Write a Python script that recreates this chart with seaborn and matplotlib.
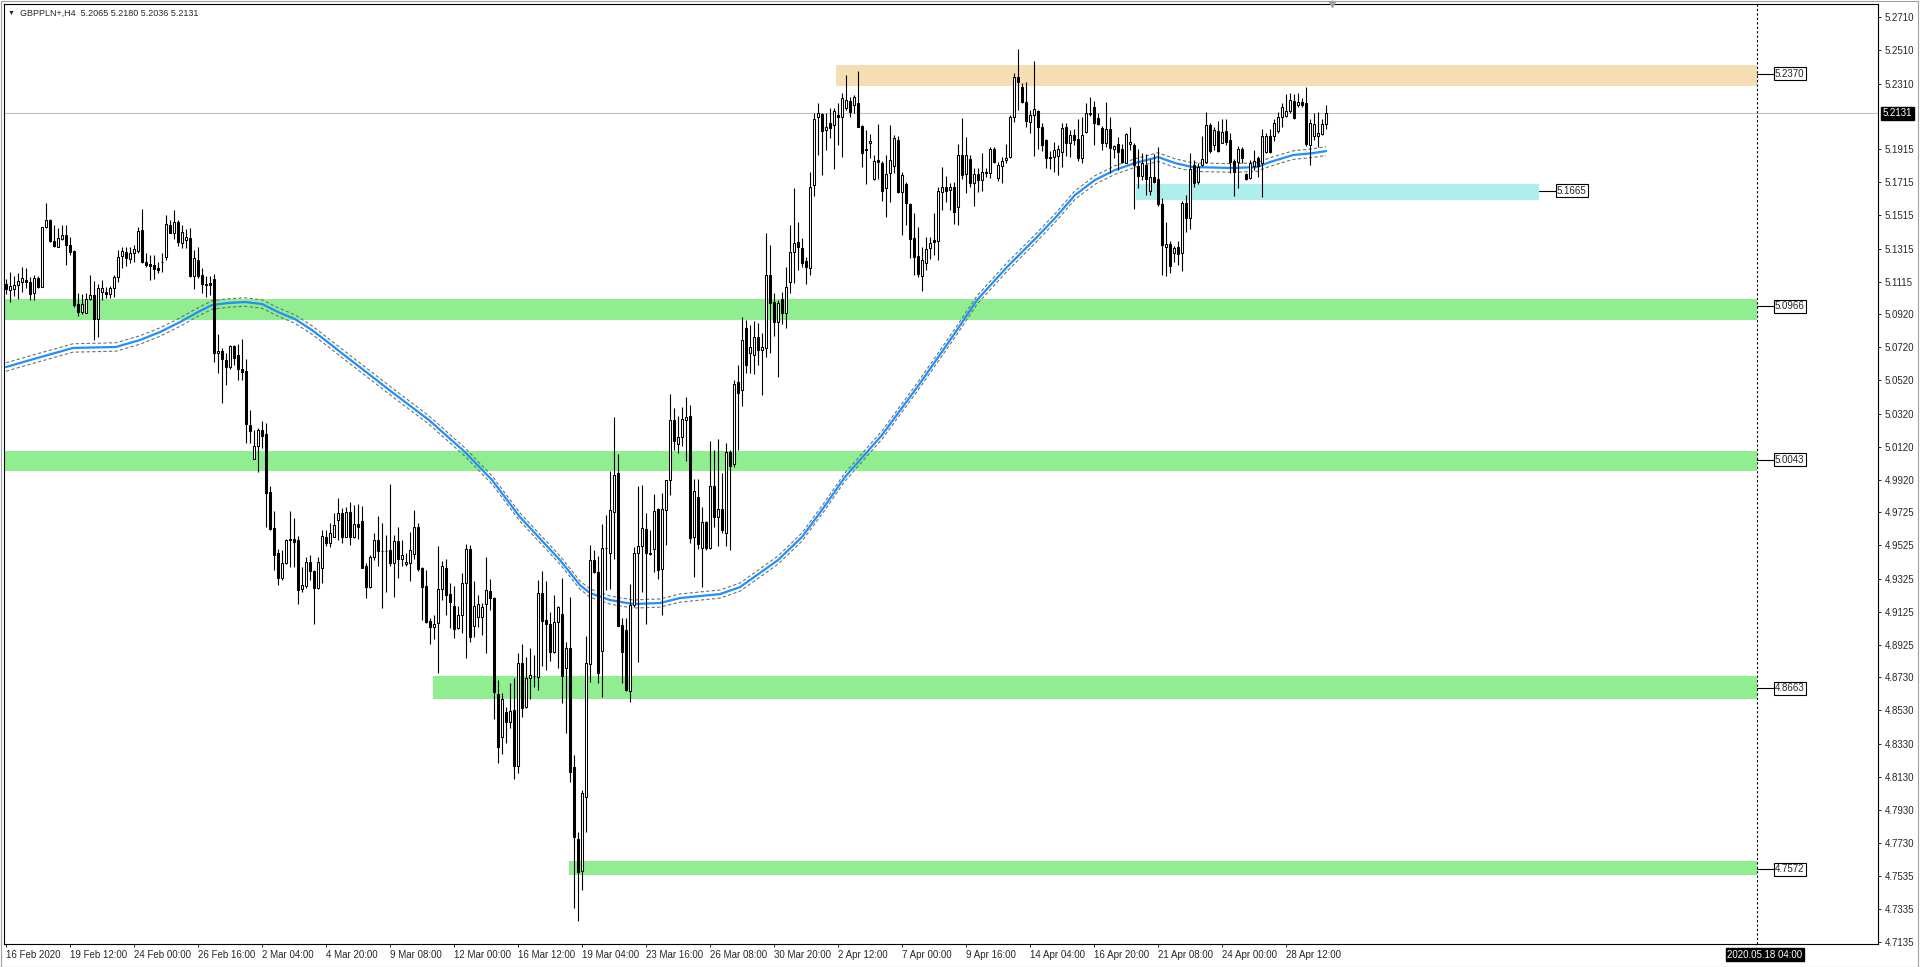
import numpy as np
import pandas as pd
import matplotlib
matplotlib.use("Agg")
import matplotlib.pyplot as plt
import matplotlib.transforms as mtransforms
from matplotlib.patches import Rectangle
import seaborn as sns

# ---- GBPPLN+ H4 candles (bar 0 = 16 Feb 2020 20:00) ----
opens = [
    5.1099, 5.1065, 5.1069, 5.1095, 5.1115, 5.1125, 5.1113, 5.1045, 5.1135, 5.1085,
    5.1443, 5.1487, 5.1362, 5.1326, 5.1375, 5.1397, 5.1336, 5.1300, 5.0979, 5.0934,
    5.0928, 5.1013, 5.1035, 5.0888, 5.1053, 5.1053, 5.1043, 5.1079, 5.1145, 5.1270,
    5.1296, 5.1252, 5.1286, 5.1300, 5.1427, 5.1236, 5.1222, 5.1216, 5.1200, 5.1232,
    5.1266, 5.1457, 5.1411, 5.1477, 5.1350, 5.1366, 5.1377, 5.1149, 5.1246, 5.1156,
    5.1104, 5.1110, 5.1130, 5.0683, 5.0698, 5.0643, 5.0599, 5.0728, 5.0673, 5.0589,
    5.0577, 5.0251, 5.0044, 5.0127, 5.0221, 5.0197, 4.9849, 4.9632, 4.9477, 4.9327,
    4.9417, 4.9558, 4.9566, 4.9558, 4.9260, 4.9281, 4.9425, 4.9371, 4.9266, 4.9387,
    4.9578, 4.9538, 4.9578, 4.9679, 4.9719, 4.9578, 4.9725, 4.9574, 4.9655, 4.9673,
    4.9401, 4.9273, 4.9454, 4.9558, 4.9494, 4.9492, 4.9498, 4.9422, 4.9552, 4.9442,
    4.9413, 4.9417, 4.9472, 4.9635, 4.9387, 4.9281, 4.9070, 4.9036, 4.9056, 4.9261,
    4.9387, 4.9233, 4.9160, 4.9030, 4.9106, 4.9297, 4.9502, 4.9040, 4.9096, 4.9096,
    4.9170, 4.9251, 4.9210, 4.8628, 4.8368, 4.8519, 4.8463, 4.8533, 4.8197, 4.8814,
    4.8549, 4.8723, 4.8736, 4.8734, 4.9236, 4.9075, 4.9049, 4.8884, 4.9065, 4.9109,
    4.8784, 4.8904, 4.8187, 4.7753, 4.7564, 4.8006, 4.8808, 4.9437, 4.9367, 4.8890,
    4.9508, 4.9481, 4.9729, 4.9964, 4.9045, 4.9015, 4.8649, 4.9166, 4.9477, 4.9524,
    4.9624, 4.9477, 4.9502, 4.9745, 4.9381, 4.9739, 4.9920, 5.0281, 5.0135, 5.0177,
    5.0281, 5.0306, 4.9574, 4.9815, 4.9512, 4.9666, 4.9512, 4.9883, 4.9699, 4.9743,
    4.9598, 5.0086, 5.0014, 5.0513, 5.0463, 5.0835, 5.0684, 5.0674, 5.0780, 5.0704,
    5.0714, 5.1156, 5.0991, 5.0875, 5.1009, 5.0925, 5.1116, 5.1297, 5.1357, 5.1317,
    5.1241, 5.1196, 5.1697, 5.2111, 5.2127, 5.2030, 5.2071, 5.2061, 5.2121, 5.2111,
    5.2161, 5.2205, 5.2181, 5.2191, 5.2054, 5.1918, 5.1950, 5.1733, 5.1849, 5.1829,
    5.1679, 5.1769, 5.1813, 5.1970, 5.1658, 5.1705, 5.1584, 5.1377, 5.1270, 5.1150,
    5.1230, 5.1317, 5.1367, 5.1363, 5.1658, 5.1689, 5.1669, 5.1689, 5.1564, 5.1880,
    5.1763, 5.1855, 5.1709, 5.1763, 5.1729, 5.1769, 5.1773, 5.1918, 5.1739, 5.1813,
    5.1849, 5.1865, 5.2107, 5.2352, 5.2292, 5.2201, 5.2081, 5.2121, 5.2145, 5.2047,
    5.1970, 5.1870, 5.1866, 5.1874, 5.1900, 5.2047, 5.1954, 5.2000, 5.1974, 5.1860,
    5.2016, 5.2127, 5.2167, 5.2101, 5.2041, 5.1950, 5.2035, 5.1914, 5.1946, 5.1914,
    5.1834, 5.1946, 5.1938, 5.1813, 5.1755, 5.1819, 5.1665, 5.1745, 5.1733, 5.1584,
    5.1327, 5.1343, 5.1291, 5.1323, 5.1287, 5.1588, 5.1498, 5.1819, 5.1719, 5.1819,
    5.1840, 5.2061, 5.1940, 5.2026, 5.1954, 5.2026, 5.1970, 5.1846, 5.1840, 5.1914,
    5.1765, 5.1739, 5.1813, 5.1860, 5.1834, 5.1900, 5.1994, 5.1994, 5.2026, 5.2111,
    5.2115, 5.2147, 5.2207, 5.2181, 5.2201, 5.2195, 5.1940, 5.1994, 5.1994, 5.2006,
    5.2065,
]
highs = [
    5.1129, 5.1176, 5.1149, 5.1166, 5.1202, 5.1200, 5.1145, 5.1155, 5.1149, 5.1447,
    5.1592, 5.1491, 5.1457, 5.1437, 5.1457, 5.1457, 5.1387, 5.1306, 5.1045, 5.1041,
    5.1045, 5.1155, 5.1121, 5.1101, 5.1125, 5.1085, 5.1089, 5.1155, 5.1306, 5.1326,
    5.1326, 5.1322, 5.1336, 5.1443, 5.1551, 5.1286, 5.1276, 5.1276, 5.1236, 5.1286,
    5.1517, 5.1487, 5.1547, 5.1487, 5.1457, 5.1431, 5.1437, 5.1306, 5.1326, 5.1200,
    5.1150, 5.1150, 5.1162, 5.0800, 5.0714, 5.0683, 5.0734, 5.0734, 5.0740, 5.0768,
    5.0647, 5.0342, 5.0221, 5.0231, 5.0277, 5.0261, 4.9884, 4.9735, 4.9502, 4.9498,
    4.9562, 4.9735, 4.9689, 4.9582, 4.9397, 4.9453, 4.9467, 4.9377, 4.9453, 4.9618,
    4.9619, 4.9659, 4.9719, 4.9809, 4.9749, 4.9755, 4.9785, 4.9769, 4.9775, 4.9765,
    4.9422, 4.9468, 4.9598, 4.9703, 4.9659, 4.9588, 4.9896, 4.9588, 4.9639, 4.9558,
    4.9478, 4.9608, 4.9739, 4.9659, 4.9393, 4.9377, 4.9090, 4.9106, 4.9522, 4.9434,
    4.9442, 4.9297, 4.9281, 4.9160, 4.9357, 4.9534, 4.9528, 4.9311, 4.9227, 4.9176,
    4.9454, 4.9325, 4.9217, 4.8714, 4.8634, 4.8553, 4.8694, 4.8724, 4.8875, 4.8928,
    4.8850, 4.8904, 4.8864, 4.9316, 4.9371, 4.9310, 4.9125, 4.9226, 4.9160, 4.9326,
    4.8945, 4.9212, 4.8261, 4.7795, 4.8050, 4.8979, 4.9528, 4.9500, 4.9460, 4.9654,
    4.9709, 4.9976, 5.0302, 5.0076, 4.9085, 4.9085, 4.9293, 4.9518, 4.9883, 4.9889,
    4.9719, 4.9618, 4.9835, 4.9749, 4.9839, 4.9920, 5.0440, 5.0352, 5.0306, 5.0362,
    5.0420, 5.0372, 4.9928, 4.9924, 4.9759, 4.9670, 5.0157, 5.0101, 5.0165, 4.9960,
    5.0145, 5.0101, 5.0520, 5.0613, 5.0905, 5.0885, 5.0855, 5.0881, 5.0865, 5.0804,
    5.1407, 5.1337, 5.1046, 5.1005, 5.1056, 5.1206, 5.1458, 5.1679, 5.1478, 5.1377,
    5.1267, 5.1779, 5.2135, 5.2195, 5.2135, 5.2131, 5.2161, 5.2161, 5.2191, 5.2251,
    5.2362, 5.2231, 5.2241, 5.2386, 5.2060, 5.2030, 5.2006, 5.1880, 5.2066, 5.1845,
    5.1880, 5.2060, 5.2000, 5.1994, 5.1779, 5.1719, 5.1592, 5.1528, 5.1443, 5.1327,
    5.1383, 5.1387, 5.1532, 5.1689, 5.1809, 5.1753, 5.1709, 5.1719, 5.1946, 5.2101,
    5.1990, 5.1880, 5.1803, 5.1799, 5.1890, 5.1799, 5.1930, 5.1926, 5.1839, 5.1870,
    5.1946, 5.2121, 5.2376, 5.2517, 5.2312, 5.2322, 5.2151, 5.2448, 5.2151, 5.2075,
    5.1974, 5.1906, 5.1960, 5.1940, 5.2075, 5.2071, 5.2030, 5.2035, 5.2095, 5.2111,
    5.2195, 5.2227, 5.2207, 5.2135, 5.2055, 5.2201, 5.2107, 5.1940, 5.1986, 5.1946,
    5.2010, 5.2051, 5.1954, 5.1914, 5.1894, 5.1886, 5.1854, 5.1886, 5.1930, 5.1618,
    5.1478, 5.1363, 5.1331, 5.1363, 5.1604, 5.1639, 5.1894, 5.1850, 5.1834, 5.1994,
    5.2141, 5.2075, 5.2051, 5.2087, 5.2095, 5.2095, 5.2010, 5.1854, 5.1934, 5.1930,
    5.1773, 5.1850, 5.1910, 5.1874, 5.2035, 5.2010, 5.2035, 5.2095, 5.2141, 5.2191,
    5.2248, 5.2252, 5.2248, 5.2252, 5.2221, 5.2288, 5.2095, 5.2131, 5.2141, 5.2095,
    5.2180,
]
lows = [
    5.1041, 5.0995, 5.1029, 5.1009, 5.1055, 5.1079, 5.1005, 5.1005, 5.1079, 5.1085,
    5.1437, 5.1356, 5.1326, 5.1322, 5.1366, 5.1216, 5.1276, 5.0965, 5.0908, 5.0920,
    5.0924, 5.1005, 5.0763, 5.0784, 5.1005, 5.1015, 5.1015, 5.1025, 5.1115, 5.1196,
    5.1210, 5.1230, 5.1232, 5.1286, 5.1230, 5.1206, 5.1125, 5.1129, 5.1170, 5.1176,
    5.1246, 5.1407, 5.1371, 5.1330, 5.1316, 5.1316, 5.1145, 5.1069, 5.1135, 5.1049,
    5.1025, 5.1035, 5.0633, 5.0563, 5.0382, 5.0493, 5.0587, 5.0613, 5.0523, 5.0523,
    5.0141, 5.0141, 5.0044, 4.9970, 5.0111, 4.9638, 4.9618, 4.9377, 4.9287, 4.9317,
    4.9413, 4.9397, 4.9397, 4.9170, 4.9246, 4.9266, 4.9317, 4.9049, 4.9260, 4.9300,
    4.9522, 4.9518, 4.9574, 4.9558, 4.9538, 4.9574, 4.9528, 4.9568, 4.9562, 4.9387,
    4.9206, 4.9267, 4.9438, 4.9401, 4.9150, 4.9247, 4.9401, 4.9217, 4.9331, 4.9401,
    4.9401, 4.9313, 4.9446, 4.9373, 4.9076, 4.9056, 4.8931, 4.8959, 4.8754, 4.9196,
    4.9106, 4.9026, 4.8965, 4.9020, 4.8995, 4.8845, 4.8945, 4.8975, 4.9036, 4.8985,
    4.8875, 4.9136, 4.8477, 4.8212, 4.8268, 4.8332, 4.8423, 4.8117, 4.8151, 4.8492,
    4.8543, 4.8597, 4.8673, 4.8653, 4.8798, 4.8774, 4.8830, 4.8878, 4.8784, 4.8577,
    4.8392, 4.8100, 4.7337, 4.7262, 4.7447, 4.7799, 4.8704, 4.9357, 4.8693, 4.8613,
    4.9256, 4.9260, 4.9441, 4.9041, 4.8694, 4.8649, 4.8583, 4.9156, 4.8824, 4.9246,
    4.9051, 4.9467, 4.9367, 4.9321, 4.9106, 4.9528, 4.9829, 5.0101, 5.0080, 5.0125,
    5.0036, 4.9542, 4.9337, 4.9502, 4.9276, 4.9500, 4.9502, 4.9638, 4.9522, 4.9598,
    4.9522, 4.9497, 4.9998, 5.0101, 5.0366, 5.0563, 5.0563, 5.0559, 5.0613, 5.0433,
    5.0660, 5.0684, 5.0788, 5.0543, 5.0861, 5.0835, 5.1050, 5.1110, 5.1186, 5.1202,
    5.1102, 5.1156, 5.1633, 5.1880, 5.1759, 5.1910, 5.1980, 5.1793, 5.1940, 5.1866,
    5.2151, 5.2107, 5.2131, 5.2046, 5.1809, 5.1705, 5.1859, 5.1729, 5.1733, 5.1604,
    5.1504, 5.1598, 5.1769, 5.1652, 5.1397, 5.1457, 5.1256, 5.1156, 5.1146, 5.1062,
    5.1186, 5.1250, 5.1277, 5.1246, 5.1548, 5.1598, 5.1548, 5.1464, 5.1457, 5.1733,
    5.1652, 5.1689, 5.1572, 5.1658, 5.1665, 5.1749, 5.1739, 5.1829, 5.1725, 5.1709,
    5.1833, 5.1859, 5.2081, 5.2151, 5.2191, 5.2046, 5.2014, 5.1874, 5.1914, 5.1906,
    5.1799, 5.1793, 5.1779, 5.1759, 5.1805, 5.1874, 5.1870, 5.1940, 5.1846, 5.1834,
    5.2010, 5.2115, 5.1940, 5.2061, 5.1910, 5.1930, 5.1773, 5.1860, 5.1789, 5.1830,
    5.1830, 5.1910, 5.1552, 5.1679, 5.1729, 5.1639, 5.1639, 5.1709, 5.1572, 5.1156,
    5.1150, 5.1170, 5.1237, 5.1216, 5.1182, 5.1417, 5.1432, 5.1685, 5.1705, 5.1813,
    5.1830, 5.1890, 5.1910, 5.1900, 5.1950, 5.1940, 5.1773, 5.1633, 5.1679, 5.1830,
    5.1729, 5.1733, 5.1789, 5.1749, 5.1624, 5.1894, 5.1894, 5.1966, 5.2014, 5.2051,
    5.2107, 5.2135, 5.2095, 5.2171, 5.2171, 5.1934, 5.1819, 5.1970, 5.1930, 5.2000,
    5.2036,
]
closes = [
    5.1069, 5.1091, 5.1093, 5.1119, 5.1135, 5.1111, 5.1039, 5.1135, 5.1081, 5.1443,
    5.1487, 5.1362, 5.1332, 5.1377, 5.1397, 5.1336, 5.1296, 5.0975, 5.0934, 5.0981,
    5.1011, 5.1033, 5.0888, 5.1077, 5.1077, 5.1043, 5.1077, 5.1145, 5.1266, 5.1300,
    5.1256, 5.1290, 5.1310, 5.1423, 5.1236, 5.1216, 5.1210, 5.1192, 5.1186, 5.1232,
    5.1461, 5.1411, 5.1473, 5.1356, 5.1417, 5.1387, 5.1149, 5.1256, 5.1149, 5.1102,
    5.1098, 5.1096, 5.0683, 5.0698, 5.0647, 5.0599, 5.0728, 5.0653, 5.0587, 5.0573,
    5.0255, 5.0217, 5.0125, 5.0221, 5.0187, 4.9843, 4.9622, 4.9467, 4.9327, 4.9417,
    4.9558, 4.9562, 4.9548, 4.9256, 4.9287, 4.9425, 4.9373, 4.9266, 4.9425, 4.9584,
    4.9538, 4.9602, 4.9649, 4.9719, 4.9578, 4.9725, 4.9574, 4.9655, 4.9639, 4.9391,
    4.9277, 4.9454, 4.9558, 4.9494, 4.9492, 4.9494, 4.9422, 4.9552, 4.9446, 4.9466,
    4.9426, 4.9496, 4.9635, 4.9381, 4.9277, 4.9066, 4.9036, 4.9052, 4.9261, 4.9399,
    4.9229, 4.9182, 4.9020, 4.9106, 4.9297, 4.9502, 4.8971, 4.9160, 4.9172, 4.9152,
    4.9257, 4.9206, 4.8644, 4.8308, 4.8597, 4.8463, 4.8527, 4.8197, 4.8817, 4.8543,
    4.8723, 4.8742, 4.8738, 4.9236, 4.9071, 4.9049, 4.8884, 4.9065, 4.9152, 4.8740,
    4.8904, 4.8157, 4.7769, 4.7558, 4.8030, 4.8814, 4.9437, 4.9367, 4.8754, 4.9508,
    4.9510, 4.9739, 4.9950, 4.9041, 4.8884, 4.8653, 4.9166, 4.9477, 4.9522, 4.9628,
    4.9477, 4.9475, 4.9733, 4.9377, 4.9745, 4.9920, 5.0281, 5.0157, 5.0177, 5.0287,
    5.0297, 4.9568, 4.9853, 4.9532, 4.9666, 4.9512, 4.9883, 4.9694, 4.9743, 4.9618,
    5.0086, 5.0006, 5.0500, 5.0447, 5.0764, 5.0613, 5.0720, 5.0780, 5.0704, 5.0720,
    5.1156, 5.0985, 5.0871, 5.0985, 5.0925, 5.1082, 5.1297, 5.1347, 5.1327, 5.1231,
    5.1206, 5.1685, 5.2095, 5.2131, 5.2026, 5.2051, 5.2041, 5.2147, 5.2111, 5.2221,
    5.2211, 5.2141, 5.2227, 5.2050, 5.1890, 5.1910, 5.1962, 5.1843, 5.1839, 5.1665,
    5.1765, 5.1849, 5.1980, 5.1658, 5.1759, 5.1588, 5.1371, 5.1266, 5.1162, 5.1246,
    5.1313, 5.1347, 5.1357, 5.1662, 5.1689, 5.1665, 5.1689, 5.1538, 5.1880, 5.1759,
    5.1880, 5.1709, 5.1763, 5.1729, 5.1779, 5.1779, 5.1914, 5.1839, 5.1819, 5.1845,
    5.1859, 5.2107, 5.2348, 5.2322, 5.2201, 5.2087, 5.2119, 5.2155, 5.2046, 5.1940,
    5.1860, 5.1860, 5.1910, 5.1914, 5.2041, 5.1954, 5.2000, 5.1970, 5.1860, 5.2000,
    5.2135, 5.2135, 5.2071, 5.2067, 5.1954, 5.2035, 5.1920, 5.1934, 5.1900, 5.1836,
    5.2006, 5.1960, 5.1819, 5.1755, 5.1830, 5.1733, 5.1745, 5.1719, 5.1584, 5.1337,
    5.1343, 5.1210, 5.1317, 5.1283, 5.1588, 5.1498, 5.1793, 5.1709, 5.1809, 5.1854,
    5.2061, 5.1906, 5.2030, 5.1906, 5.2020, 5.1960, 5.1840, 5.1779, 5.1914, 5.1860,
    5.1733, 5.1830, 5.1846, 5.1813, 5.1994, 5.1994, 5.1900, 5.2071, 5.2111, 5.2171,
    5.2147, 5.2211, 5.2101, 5.2201, 5.2181, 5.1946, 5.2071, 5.2067, 5.2014, 5.2067,
    5.2131,
]

# time axis labels, one every 16 bars
xtick_labels = ["16 Feb 2020", "19 Feb 12:00", "24 Feb 00:00", "26 Feb 16:00", "2 Mar 04:00",
                "4 Mar 20:00", "9 Mar 08:00", "12 Mar 00:00", "16 Mar 12:00", "19 Mar 04:00",
                "23 Mar 16:00", "26 Mar 08:00", "30 Mar 20:00", "2 Apr 12:00", "7 Apr 00:00",
                "9 Apr 16:00", "14 Apr 04:00", "16 Apr 20:00", "21 Apr 08:00", "24 Apr 00:00",
                "28 Apr 12:00"]
ytick_labels = ["5.2710", "5.2510", "5.2310", "5.1915", "5.1715", "5.1515", "5.1315", "5.1115",
                "5.0920", "5.0720", "5.0520", "5.0320", "5.0120", "4.9920", "4.9725", "4.9525",
                "4.9325", "4.9125", "4.8925", "4.8730", "4.8530", "4.8330", "4.8130", "4.7930",
                "4.7730", "4.7535", "4.7335", "4.7135"]

# moving average (blue) read at points along the line
ma_bar = [0, 7.75, 16.75, 27.5, 33.5, 38.5, 43.5, 48.5, 51.5, 55.5,
          59.75, 64, 68, 72.25, 76.5, 79.75, 84.25, 96.5, 105.75, 114.75,
          121.5, 128.5, 138.5, 143.5, 146, 151, 156.75, 163.5, 168.5, 173.5,
          178.5, 183.5, 193, 199, 204, 209.75, 219, 228, 237.25, 242.75,
          250.25, 257.25, 262.25, 267.25, 272.25, 277.25, 282.25, 288, 292.25, 296.5,
          306.75, 312.75, 316, 321.75, 326.75, 330]
ma_val = [5.0601, 5.0655, 5.0716, 5.0722, 5.0764, 5.0812, 5.0872, 5.0939, 5.0975, 5.0987,
          5.0993, 5.0981, 5.0933, 5.0890, 5.0824, 5.0764, 5.0679, 5.0450, 5.0281, 5.0088,
          4.9920, 4.9696, 4.9437, 4.9286, 4.9238, 4.9196, 4.9172, 4.9178, 4.9208, 4.9220,
          4.9232, 4.9274, 4.9437, 4.9576, 4.9739, 4.9938, 5.0191, 5.0486, 5.0806, 5.1005,
          5.1204, 5.1373, 5.1499, 5.1638, 5.1729, 5.1789, 5.1831, 5.1867, 5.1831, 5.1807,
          5.1801, 5.1807, 5.1837, 5.1879, 5.1891, 5.1903]

# support / resistance zones: (start bar, end bar, low, high, colour, label level)
zones = [
    (207.5, 437.75, 5.2296, 5.2422, "#F5DEB3", 5.2370),
    (282.5, 383.25, 5.1608, 5.1705, "#AFEEEE", 5.1665),
    (-0.5, 437.75, 5.0884, 5.1011, "#90EE90", 5.0966),
    (-0.5, 437.75, 4.9976, 5.0095, "#90EE90", 5.0043),
    (106.8, 437.75, 4.8599, 4.8738, "#90EE90", 4.8663),
    (140.75, 437.75, 4.7538, 4.7622, "#90EE90", 4.7572),
]
marker_bar = 437.75
marker_text = "2020.05.18 04:00"

sns.set_style("white")
plt.rcParams["font.family"] = ["Liberation Sans", "DejaVu Sans"]

W, H = 1920, 967
fig = plt.figure(figsize=(W / 100, H / 100), dpi=100)
ax = fig.add_axes([4 / W, 1 - 944 / H, (1878 - 4) / W, (944 - 4) / H])

df = pd.DataFrame({"open": opens, "high": highs, "low": lows, "close": closes})
df["bar"] = np.arange(len(df))
df["high"] = df[["high", "open", "close"]].max(axis=1)
df["low"] = df[["low", "open", "close"]].min(axis=1)
up = df["close"] >= df["open"]
body_lo = df[["open", "close"]].min(axis=1)
body_h = (df["close"] - df["open"]).abs()

# zones
for x0, x1, lo, hi, col, lvl in zones:
    ax.add_patch(Rectangle((x0, lo), x1 - x0, hi - lo, facecolor=col, edgecolor="none", zorder=0))
    ax.plot([x1, x1 + 4.5], [lvl, lvl], color="black", lw=0.8, zorder=5, clip_on=False)
    ax.text(x1 + 4.5, lvl, f"{lvl:.4f}", fontsize=7, va="center", ha="left", zorder=6,
            bbox=dict(boxstyle="square,pad=0.12", fc="white", ec="black", lw=0.8))

# moving average with envelope
ma = pd.DataFrame({"bar": ma_bar, "value": ma_val})
ma["upper"] = ma["value"] * 1.0005
ma["lower"] = ma["value"] * 0.9995
sns.lineplot(data=ma, x="bar", y="upper", ax=ax, color="#707070", lw=0.8,
             linestyle=(0, (3, 2)), zorder=1.5)
sns.lineplot(data=ma, x="bar", y="lower", ax=ax, color="#707070", lw=0.8,
             linestyle=(0, (3, 2)), zorder=1.5)
sns.lineplot(data=ma, x="bar", y="value", ax=ax, color="#1E90FF", lw=1.6, zorder=1.6)

# candles
ax.vlines(df["bar"], df["low"], df["high"], color="black", lw=0.8, zorder=3)
ax.bar(df["bar"], body_h, bottom=body_lo, width=0.55,
       color=np.where(up, "white", "black"), edgecolor="black", linewidth=0.75, zorder=4)

# bid line and marker line
last = closes[-1]
ax.axhline(last, color="#C0C0C0", lw=0.8, zorder=1)
ax.axvline(marker_bar, color="black", lw=0.8, linestyle=(0, (2, 2)), zorder=1)

ax.set_xlim(-0.5, 468)
ax.set_ylim(4.7122, 5.2790)
ax.set_xlabel("")
ax.set_ylabel("")

ax.set_xticks(np.arange(0, 16 * len(xtick_labels), 16))
ax.set_xticklabels(xtick_labels, fontsize=7, ha="left")
ax.tick_params(axis="x", length=2.5, width=0.7, pad=1.5, direction="out", bottom=True)
ax.yaxis.tick_right()
ax.set_yticks([float(t) for t in ytick_labels])
ax.set_yticklabels(ytick_labels, fontsize=7)
ax.tick_params(axis="y", length=2.5, width=0.7, pad=2.5, direction="out", right=True)
for s in ax.spines.values():
    s.set_color("black")
    s.set_linewidth(0.8)

# current price box on the right scale
trans_y = mtransforms.blended_transform_factory(ax.transAxes, ax.transData)
ax.text(1.0025, last, f"{last:.4f}", transform=trans_y, fontsize=7, color="white",
        va="center", ha="left", zorder=7,
        bbox=dict(boxstyle="square,pad=0.15", fc="black", ec="black"))

# time marker box under the axis
trans_x = mtransforms.blended_transform_factory(ax.transData, ax.transAxes)
ax.text(marker_bar + 2, -0.006, marker_text, transform=trans_x, fontsize=7, color="white",
        va="top", ha="center", bbox=dict(boxstyle="square,pad=0.15", fc="black", ec="black"))

# chart shift marker
ax.plot([331.5], [1.0], transform=trans_x, marker="v", color="#A0A0A0", markersize=5,
        clip_on=False, zorder=8)

# header
fig.text(8 / W, 1 - 13 / H, "\u25BC", fontsize=5, va="center", ha="left")
fig.text(20 / W, 1 - 13 / H,
         f"GBPPLN+,H4  {opens[-1]:.4f} {highs[-1]:.4f} {lows[-1]:.4f} {closes[-1]:.4f}",
         fontsize=6.5, va="center", ha="left")

# window frame
fig.add_artist(Rectangle((0.5 / W, 0.5 / H), 1 - 2.5 / W, 1 - 1.5 / H, transform=fig.transFigure,
                         fill=False, edgecolor="#A0A0A0", lw=0.8))

fig.savefig("out.png", dpi=100, facecolor="white")
